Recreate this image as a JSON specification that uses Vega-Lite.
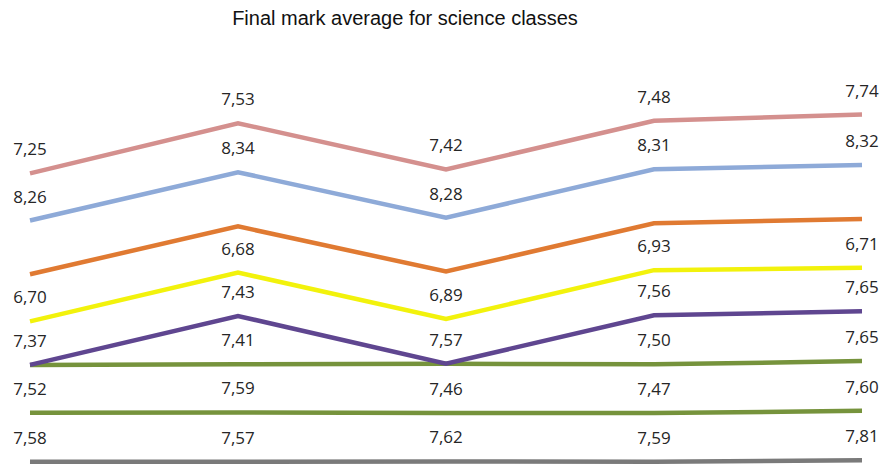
{
  "$schema": "https://vega.github.io/schema/vega-lite/v6.json",
  "width": 832,
  "height": 404,
  "autosize": {"type": "none"},
  "padding": {"top": 60, "left": 30, "right": 24, "bottom": 0},
  "background": "white",
  "title": {
    "text": "Final mark average for science classes",
    "font": "Liberation Sans",
    "fontSize": 20,
    "fontWeight": "normal",
    "color": "#111111",
    "anchor": "middle",
    "dx": -41,
    "offset": 31
  },
  "config": {
    "view": {"stroke": null},
    "locale": {"number": {"decimal": ",", "thousands": ".", "grouping": [3], "currency": ["", " €"]}}
  },
  "data": {
    "values": [
      {"col": 1, "series": "Series 1", "k": 1, "value": 7.58},
      {"col": 1, "series": "Series 2", "k": 2, "value": 7.52},
      {"col": 1, "series": "Series 3", "k": 3, "value": 7.37},
      {"col": 1, "series": "Series 4", "k": 4, "value": 0},
      {"col": 1, "series": "Series 5", "k": 5, "value": 6.70},
      {"col": 1, "series": "Series 6", "k": 6, "value": 7.25},
      {"col": 1, "series": "Series 7", "k": 7, "value": 8.26},
      {"col": 1, "series": "Series 8", "k": 8, "value": 7.25},
      {"col": 2, "series": "Series 1", "k": 1, "value": 7.57},
      {"col": 2, "series": "Series 2", "k": 2, "value": 7.59},
      {"col": 2, "series": "Series 3", "k": 3, "value": 7.41},
      {"col": 2, "series": "Series 4", "k": 4, "value": 7.43},
      {"col": 2, "series": "Series 5", "k": 5, "value": 6.68},
      {"col": 2, "series": "Series 6", "k": 6, "value": 7.10},
      {"col": 2, "series": "Series 7", "k": 7, "value": 8.34},
      {"col": 2, "series": "Series 8", "k": 8, "value": 7.53},
      {"col": 3, "series": "Series 1", "k": 1, "value": 7.62},
      {"col": 3, "series": "Series 2", "k": 2, "value": 7.46},
      {"col": 3, "series": "Series 3", "k": 3, "value": 7.57},
      {"col": 3, "series": "Series 4", "k": 4, "value": 0},
      {"col": 3, "series": "Series 5", "k": 5, "value": 6.89},
      {"col": 3, "series": "Series 6", "k": 6, "value": 7.30},
      {"col": 3, "series": "Series 7", "k": 7, "value": 8.28},
      {"col": 3, "series": "Series 8", "k": 8, "value": 7.42},
      {"col": 4, "series": "Series 1", "k": 1, "value": 7.59},
      {"col": 4, "series": "Series 2", "k": 2, "value": 7.47},
      {"col": 4, "series": "Series 3", "k": 3, "value": 7.50},
      {"col": 4, "series": "Series 4", "k": 4, "value": 7.56},
      {"col": 4, "series": "Series 5", "k": 5, "value": 6.93},
      {"col": 4, "series": "Series 6", "k": 6, "value": 7.20},
      {"col": 4, "series": "Series 7", "k": 7, "value": 8.31},
      {"col": 4, "series": "Series 8", "k": 8, "value": 7.48},
      {"col": 5, "series": "Series 1", "k": 1, "value": 7.81},
      {"col": 5, "series": "Series 2", "k": 2, "value": 7.60},
      {"col": 5, "series": "Series 3", "k": 3, "value": 7.65},
      {"col": 5, "series": "Series 4", "k": 4, "value": 7.65},
      {"col": 5, "series": "Series 5", "k": 5, "value": 6.71},
      {"col": 5, "series": "Series 6", "k": 6, "value": 7.50},
      {"col": 5, "series": "Series 7", "k": 7, "value": 8.32},
      {"col": 5, "series": "Series 8", "k": 8, "value": 7.74}
    ]
  },
  "transform": [
    {"stack": "value", "groupby": ["col"], "sort": [{"field": "k", "order": "ascending"}], "as": ["y0", "y1"]}
  ],
  "layer": [
    {
      "mark": {"type": "line", "strokeWidth": 4.5, "clip": false},
      "encoding": {
        "x": {"field": "col", "type": "quantitative", "scale": {"domain": [1, 5], "nice": false, "zero": false}, "axis": null},
        "y": {"field": "y1", "type": "quantitative", "scale": {"domain": [7.23, 69.38], "nice": false, "zero": false}, "axis": null},
        "color": {
          "field": "series",
          "type": "nominal",
          "scale": {
            "domain": ["Series 1", "Series 2", "Series 3", "Series 4", "Series 5", "Series 6", "Series 7", "Series 8"],
            "range": ["#7a7a7a", "#76933c", "#76933c", "#5f4690", "#f2f20c", "#e07a32", "#8eaad8", "#d4908e"]
          },
          "legend": null
        },
        "order": {"field": "col", "type": "quantitative"}
      }
    },
    {
      "transform": [{"filter": "datum.value > 0 && datum.series != 'Series 6'"}],
      "mark": {"type": "text", "font": "Open Sans", "fontSize": 17, "color": "#262626", "dy": -23, "baseline": "middle", "align": "center"},
      "encoding": {
        "x": {"field": "col", "type": "quantitative", "scale": {"domain": [1, 5], "nice": false, "zero": false}, "axis": null},
        "y": {"field": "y1", "type": "quantitative", "scale": {"domain": [7.23, 69.38], "nice": false, "zero": false}, "axis": null},
        "text": {"field": "value", "type": "quantitative", "format": ".2f"}
      }
    }
  ]
}
